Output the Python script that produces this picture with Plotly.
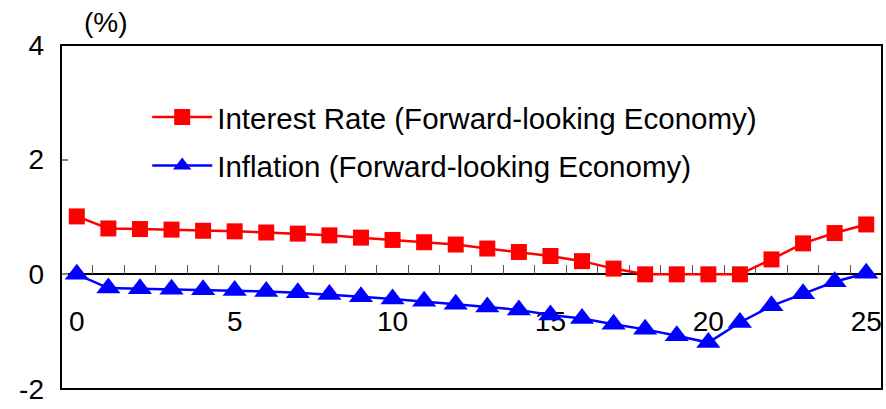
import plotly.graph_objects as go

# Quarters after the shock and simulated paths (%)
periods = list(range(26))
interest_rate = [1.01, 0.80, 0.79, 0.78, 0.76, 0.75, 0.73, 0.71, 0.68, 0.64,
                 0.60, 0.56, 0.52, 0.45, 0.39, 0.32, 0.23, 0.10, 0.00, 0.00,
                 0.00, 0.00, 0.26, 0.54, 0.72, 0.87]
inflation = [0.00, -0.24, -0.25, -0.26, -0.27, -0.28, -0.30, -0.32, -0.35, -0.39,
             -0.43, -0.47, -0.52, -0.57, -0.62, -0.71, -0.77, -0.87, -0.96, -1.07,
             -1.19, -0.84, -0.55, -0.34, -0.13, 0.02]
series_names = ["Interest Rate (Forward-looking Economy)",
                "Inflation (Forward-looking Economy)"]
x_tick_vals = [0, 5, 10, 15, 20, 25]
y_tick_vals = [-2, 0, 2, 4]
y_tick_text = ["-2", "0", "2", "4"]

FONT = "Arial, Liberation Sans, sans-serif"

fig = go.Figure()
fig.add_trace(go.Scatter(
    x=periods, y=interest_rate, name=series_names[0], mode="lines+markers",
    line=dict(color="#FF0000", width=2.5),
    marker=dict(symbol="square", size=16, color="#FF0000"),
    legendgroup="a",
))
fig.add_trace(go.Scatter(
    x=periods, y=inflation, name=series_names[1], mode="lines+markers",
    line=dict(color="#0000FF", width=2.5),
    marker=dict(symbol="triangle-up", size=21, color="#0000FF"),
    legendgroup="b",
))

fig.update_layout(
    width=886, height=409,
    margin=dict(l=61, r=4, t=45, b=20),
    paper_bgcolor="white", plot_bgcolor="white",
    font=dict(family=FONT, size=28, color="black"),
    showlegend=True,
    legend=dict(
        x=0.105, y=0.865, xanchor="left", yanchor="top",
        bgcolor="rgba(0,0,0,0)", borderwidth=0,
        font=dict(family=FONT, size=29.5, color="black"),
        tracegroupgap=7, itemwidth=60,
    ),
    xaxis=dict(
        range=[-0.5, 25.5], anchor="free", position=2 / 6,
        tickmode="array", tickvals=x_tick_vals,
        ticks="inside", ticklen=0, ticklabelstandoff=22,
        showline=True, linecolor="black", linewidth=1.5,
        showgrid=False, zeroline=False, layer="below traces",
        tickfont=dict(family=FONT, size=28, color="black"),
        minor=dict(tick0=0.5, dtick=1, ticks="inside", ticklen=9,
                   tickwidth=1.2, tickcolor="#555555", showgrid=False),
    ),
    yaxis=dict(
        range=[-2, 4], tickmode="array", tickvals=y_tick_vals, ticktext=y_tick_text,
        ticks="inside", ticklen=7, tickcolor="#808080", tickwidth=1.5,
        ticklabelstandoff=16,
        showline=False, showgrid=False, zeroline=False,
        tickfont=dict(family=FONT, size=28, color="black"),
    ),
    shapes=[dict(type="rect", xref="paper", yref="paper", x0=0, x1=1, y0=0, y1=1,
                 line=dict(color="black", width=2), layer="above")],
    annotations=[dict(text="(%)", xref="paper", yref="paper", x=0.055, y=1.0,
                      xanchor="center", yanchor="bottom", yshift=5, showarrow=False,
                      font=dict(family=FONT, size=28, color="black"))],
)

fig.write_html("out.html")
